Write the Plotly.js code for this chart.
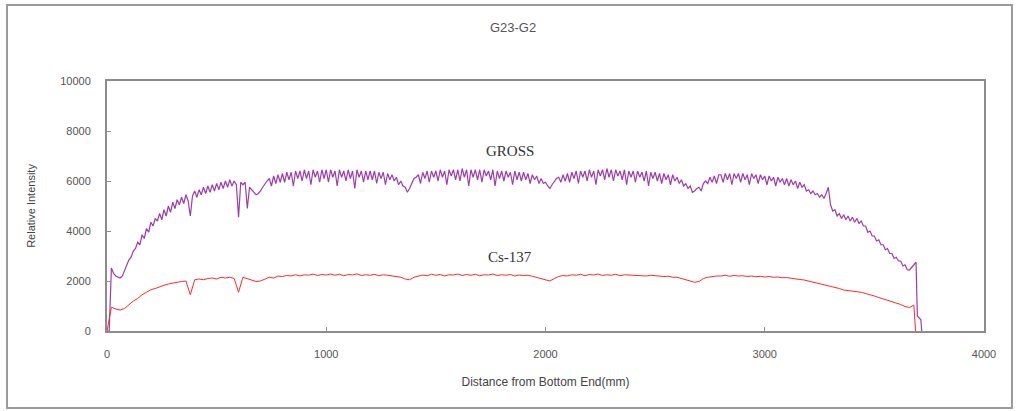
<!DOCTYPE html>
<html>
<head>
<meta charset="utf-8">
<script src="https://cdn.plot.ly/plotly-3.0.1.min.js"></script>
<style>html,body{margin:0;padding:0;background:#fff;}#chart{width:1018px;height:411px;}</style>
</head>
<body>
<div id="chart"></div>
<script>
// Sampling grids (mm) for the main part of the scans (0 .. 3680 mm)
const grossStepMm = 10;
const csStepMm = 20;
const mainEndMm = 3680;

// GROSS relative intensity, one value every 10 mm from 0 to 3680 mm
const grossMain = [
  0, 0, 2520, 2300, 2200, 2150, 2120, 2200, 2400, 2600,
  2850, 2950, 3200, 3300, 3550, 3450, 3850, 3700, 4100, 3950,
  4350, 4200, 4500, 4400, 4700, 4450, 4850, 4600, 5000, 4750,
  5150, 4900, 5250, 5050, 5350, 5100, 5450, 5200, 4600, 5400,
  5600, 5350, 5650, 5450, 5750, 5500, 5800, 5550, 5850, 5600,
  5900, 5650, 5950, 5700, 6000, 5750, 6050, 5800, 6000, 5850,
  4550, 5950, 5850, 5950, 4900, 5750, 5650, 5550, 5450, 5500,
  5600, 5750, 5900, 6000, 6100, 5800, 6200, 5900, 6250, 5950,
  6300, 5950, 6350, 6050, 6350, 5800, 6400, 6100, 6400, 6000,
  6450, 6100, 6400, 5850, 6450, 6150, 6400, 5950, 6450, 6100,
  6450, 5950, 6450, 6150, 6400, 5800, 6450, 6150, 6400, 6000,
  6450, 6100, 6400, 5700, 6450, 6150, 6400, 5950, 6400, 6050,
  6400, 6050, 6400, 5900, 6350, 6100, 6350, 5850, 6300, 6050,
  6250, 6000, 6150, 5850, 6000, 5800, 5750, 5550, 5700, 5900,
  6100, 6150, 6250, 5900, 6350, 6100, 6400, 5950, 6400, 6150,
  6400, 6000, 6450, 6150, 6400, 5850, 6450, 6200, 6450, 6050,
  6450, 6000, 6500, 6150, 6450, 5800, 6450, 6150, 6450, 6050,
  6450, 5950, 6450, 6200, 6400, 6050, 6450, 5800, 6400, 6100,
  6400, 6000, 6400, 6150, 6350, 5850, 6400, 6050, 6350, 6000,
  6350, 6050, 6300, 5900, 6250, 6050, 6200, 5900, 6100, 5900,
  5950, 5800, 5700, 5850, 6000, 6100, 6150, 5950, 6250, 6000,
  6300, 5950, 6350, 6100, 6400, 5900, 6400, 6150, 6400, 6000,
  6450, 6150, 6400, 5850, 6450, 6200, 6450, 6050, 6500, 6150,
  6450, 6000, 6450, 6200, 6400, 6050, 6450, 5850, 6400, 6150,
  6400, 5950, 6400, 6150, 6350, 6000, 6400, 5800, 6350, 6100,
  6350, 6000, 6300, 5900, 6300, 6050, 6250, 5850, 6250, 6000,
  6150, 5900, 6050, 5800, 5900, 5700, 5800, 5550, 5600, 5700,
  5750, 5600, 5900, 6000, 5900, 6150, 5950, 6200, 5900, 6250,
  6250, 5950, 6300, 6050, 6300, 5850, 6300, 6100, 6300, 5950,
  6300, 6050, 6250, 5850, 6300, 6100, 6250, 5900, 6250, 6050,
  6200, 5850, 6200, 6000, 6150, 5800, 6150, 5950, 6100, 5850,
  6100, 5800, 6050, 5850, 6000, 5700, 5950, 5750, 5850, 5600,
  5650, 5500, 5600, 5450, 5500, 5350, 5450, 5300, 5500, 5750,
  5050, 4800, 4850, 4600, 4700, 4500, 4650, 4450, 4600, 4400,
  4550, 4350, 4500, 4300, 4400, 4200, 4200, 3950, 4000, 3800,
  3800, 3600, 3650, 3450, 3450, 3250, 3300, 3100, 3100, 2900,
  2950, 2800, 2800, 2600, 2650, 2450, 2440, 2550, 2640
];
// GROSS drop-off at the top end of the rod
const grossTailX = [3690, 3696, 3712, 3716];
const grossTailY = [2750, 600, 450, 0];

// Cs-137 relative intensity, one value every 20 mm from 0 to 3680 mm
const csMain = [
  0, 950, 880, 840, 900, 1050, 1200, 1300, 1450, 1550,
  1650, 1700, 1780, 1830, 1880, 1900, 1950, 1980, 2000, 1450,
  2050, 2080, 2050, 2100, 2120, 2080, 2150, 2120, 2150, 2100,
  1550, 2150, 2100, 2050, 1980, 2000, 2080, 2150, 2120, 2200,
  2180, 2220, 2200, 2250, 2200, 2250, 2230, 2280, 2220, 2260,
  2240, 2280, 2230, 2270, 2210, 2260, 2240, 2290, 2220, 2250,
  2230, 2270, 2210, 2250, 2230, 2200, 2180, 2150, 2080, 2050,
  2150, 2200, 2240, 2210, 2270, 2230, 2260, 2200, 2250, 2240,
  2280, 2220, 2260, 2230, 2270, 2210, 2250, 2240, 2280, 2220,
  2250, 2230, 2260, 2200, 2240, 2220, 2230, 2190, 2150, 2100,
  2050, 2000, 2100, 2180, 2220, 2200, 2250, 2230, 2270, 2210,
  2260, 2240, 2280, 2220, 2250, 2230, 2270, 2210, 2250, 2240,
  2260, 2220, 2240, 2200, 2230, 2210, 2220, 2180, 2190, 2150,
  2150, 2100, 2050, 2000, 1950, 1980, 2100, 2150, 2180, 2200,
  2200, 2230, 2190, 2220, 2200, 2210, 2180, 2200, 2170, 2190,
  2160, 2180, 2150, 2160, 2130, 2140, 2110, 2100, 2060, 2040,
  2000, 1960, 1920, 1870, 1830, 1780, 1740, 1700, 1640, 1620,
  1600, 1580, 1550, 1500, 1460, 1400, 1340, 1290, 1240, 1180,
  1120, 1060, 980, 940, 1040
];
const csTailX = [3688];
const csTailY = [0];

// Axis ticks
const xTicks = [0, 1000, 2000, 3000, 4000];
const xTickText = ['0', '1000', '2000', '3000', '4000'];
const yTicks = [0, 2000, 4000, 6000, 8000, 10000];
const yTickText = ['0', '2000', '4000', '6000', '8000', '10000'];

function build(main, step, tailX, tailY) {
  const x = [], y = [];
  // main samples lie on the regular measurement grid
  const n = Math.min(main.length, Math.floor(mainEndMm / step) + 1);
  for (let i = 0; i < n; i++) { x.push(i * step); y.push(main[i]); }
  return { x: x.concat(tailX), y: y.concat(tailY) };
}
const g = build(grossMain, grossStepMm, grossTailX, grossTailY);
const c = build(csMain, csStepMm, csTailX, csTailY);

const data = [
  { type: 'scatter', mode: 'lines', name: 'GROSS', x: g.x, y: g.y,
    line: { color: '#9e3cae', width: 1.2 }, hoverinfo: 'x+y' },
  { type: 'scatter', mode: 'lines', name: 'Cs-137', x: c.x, y: c.y,
    line: { color: '#ff2a2a', width: 1 }, hoverinfo: 'x+y' }
];

const axisFont = { family: 'Arial, "Liberation Sans", sans-serif', size: 11, color: '#555' };

const layout = {
  width: 1018, height: 411,
  margin: { l: 107, r: 34, t: 81, b: 80, pad: 0 },
  paper_bgcolor: '#ffffff', plot_bgcolor: '#ffffff',
  showlegend: false,
  title: { text: 'G23-G2', font: { family: 'Arial, "Liberation Sans", sans-serif', size: 13, color: '#555' },
           x: 0.504, xref: 'container', y: 0.932, yref: 'container', xanchor: 'center', yanchor: 'middle' },
  xaxis: {
    range: [0, 4000], tickvals: xTicks, ticktext: xTickText,
    showgrid: false, zeroline: false,
    showline: true, mirror: true, linecolor: '#8c8c8c', linewidth: 2,
    ticks: 'inside', ticklen: 4, tickcolor: '#8c8c8c', tickwidth: 1,
    tickfont: axisFont, ticklabelstandoff: 12,
    title: { text: 'Distance from Bottom End(mm)', font: { family: 'Arial, "Liberation Sans", sans-serif', size: 12, color: '#444' }, standoff: 18 }
  },
  yaxis: {
    range: [0, 10000], tickvals: yTicks, ticktext: yTickText,
    showgrid: false, zeroline: false,
    showline: true, mirror: true, linecolor: '#8c8c8c', linewidth: 2,
    ticks: 'inside', ticklen: 4, tickcolor: '#8c8c8c', tickwidth: 1,
    tickfont: axisFont, ticklabelstandoff: 12,
    title: { text: 'Relative Intensity', font: { family: 'Arial, "Liberation Sans", sans-serif', size: 11, color: '#444' }, standoff: 22 }
  },
  annotations: [
    { text: 'GROSS', x: 1838, y: 7200, xref: 'x', yref: 'y', showarrow: false,
      font: { family: '"Liberation Serif", "Times New Roman", serif', size: 15, color: '#333' } },
    { text: 'Cs-137', x: 1838, y: 2960, xref: 'x', yref: 'y', showarrow: false,
      font: { family: '"Liberation Serif", "Times New Roman", serif', size: 15, color: '#333' } }
  ],
  shapes: [
    { type: 'rect', xref: 'paper', yref: 'paper', x0: -0.114, x1: 1.0319, y0: -0.308, y1: 1.304,
      line: { color: '#9a9a9a', width: 2 }, fillcolor: 'rgba(0,0,0,0)', layer: 'below' }
  ]
};

Plotly.newPlot('chart', data, layout, { staticPlot: true, displayModeBar: false });
</script>
</body>
</html>
